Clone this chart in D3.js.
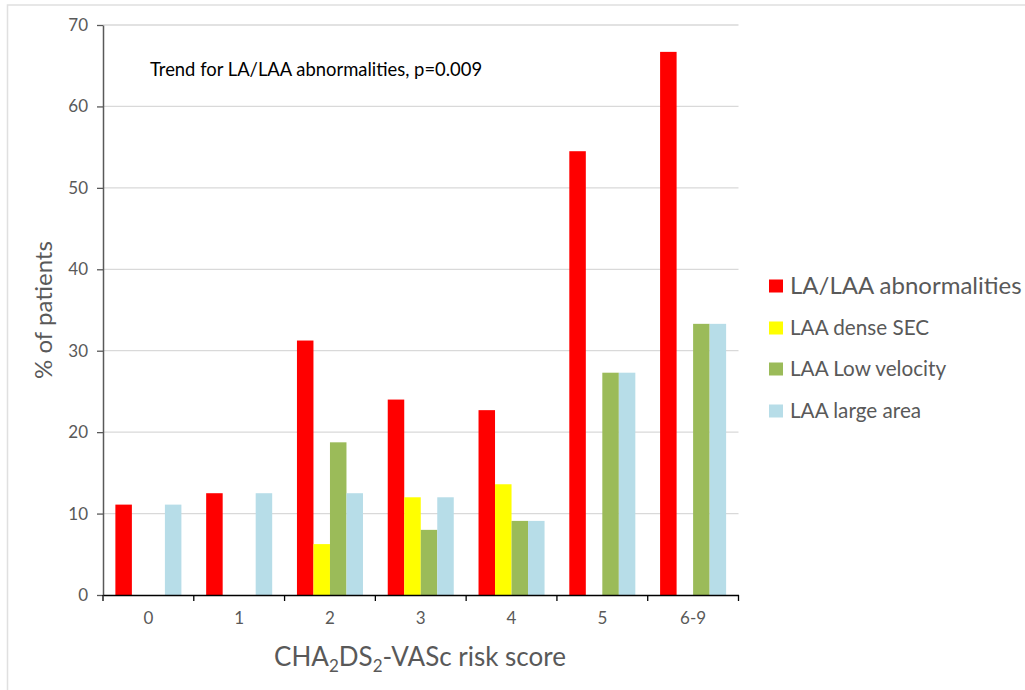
<!DOCTYPE html>
<html>
<head>
<meta charset="utf-8">
<script src="https://cdn.jsdelivr.net/npm/d3@7"></script>
<style>
  html, body { margin: 0; padding: 0; background: #fff; }
  svg { display: block; font-family: Lato, "Open Sans", sans-serif; }
</style>
</head>
<body>
<svg id="chart" width="1025" height="690"></svg>
<script>
const categories = ["0", "1", "2", "3", "4", "5", "6-9"];
const seriesNames = ["LA/LAA abnormalities", "LAA dense SEC", "LAA Low velocity", "LAA large area"];
const seriesColors = ["#ff0000", "#ffff00", "#9bbb59", "#b7dde8"];
const laLaaAbnormalities = [11.1, 12.5, 31.25, 24.0, 22.7, 54.5, 66.7];
const laaDenseSEC        = [0, 0, 6.25, 12.0, 13.6, 0, 0];
const laaLowVelocity     = [0, 0, 18.75, 8.0, 9.1, 27.3, 33.3];
const laaLargeArea       = [11.1, 12.5, 12.5, 12.0, 9.1, 27.3, 33.3];
const yTicks = [0, 10, 20, 30, 40, 50, 60, 70];
const annotation = "Trend for LA/LAA abnormalities, p=0.009";

const seriesValues = [laLaaAbnormalities, laaDenseSEC, laaLowVelocity, laaLargeArea];

const svg = d3.select("#chart");
const plot = { left: 103, right: 738.5, top: 25, bottom: 595 };

// chart border
svg.append("rect").attr("x", 7.5).attr("y", 5).attr("width", 1030).attr("height", 700)
  .attr("fill", "none").attr("stroke", "#e0e0e0").attr("stroke-width", 1.5);

const x = d3.scaleBand().domain(categories).range([plot.left, plot.right]).paddingInner(0).paddingOuter(0);
const gapRatio = 1.5;
const barW = x.bandwidth() / (seriesNames.length + gapRatio);
const x1 = d3.scaleBand().domain(seriesNames)
  .range([barW * gapRatio / 2, barW * gapRatio / 2 + barW * seriesNames.length]).padding(0);
const y = d3.scaleLinear().domain([0, 70]).range([plot.bottom, plot.top]);

// gridlines
svg.append("g").selectAll("line").data(yTicks.filter(d => d > 0)).join("line")
  .attr("x1", plot.left).attr("x2", plot.right)
  .attr("y1", d => y(d)).attr("y2", d => y(d))
  .attr("stroke", "#d9d9d9").attr("stroke-width", 1.3);

// bars
const groups = svg.append("g").selectAll("g").data(categories).join("g")
  .attr("transform", d => `translate(${x(d)},0)`);
groups.selectAll("rect").data((c, i) => seriesNames.map((s, j) => ({ s, j, v: seriesValues[j][i] })))
  .join("rect")
  .filter(d => d.v > 0)
  .attr("x", d => x1(d.s)).attr("width", x1.bandwidth())
  .attr("y", d => y(d.v)).attr("height", d => y(0) - y(d.v))
  .attr("fill", d => seriesColors[d.j]);

const tickFont = "Lato, 'Open Sans', sans-serif";

// y axis
const yAxis = svg.append("g").attr("transform", `translate(${plot.left},0)`)
  .call(d3.axisLeft(y).tickValues(yTicks).tickSize(6).tickPadding(9).tickSizeOuter(0));
yAxis.select(".domain").attr("stroke", "#595959").attr("stroke-width", 1.5);
yAxis.selectAll(".tick line").attr("stroke", "#595959").attr("stroke-width", 1.3);
yAxis.selectAll(".tick text").attr("fill", "#595959").style("font-size", "17px")
  .style("font-family", tickFont);

// x axis
const xAxis = svg.append("g").attr("transform", `translate(0,${plot.bottom})`)
  .call(d3.axisBottom(x).tickSize(0).tickPadding(17).tickSizeOuter(0));
xAxis.select(".domain").attr("stroke", "#000").attr("stroke-width", 1.5);
xAxis.selectAll(".tick text").attr("fill", "#595959").style("font-size", "17px")
  .style("font-family", tickFont);
// boundary ticks
const bounds = categories.map(c => x(c)).concat([x(categories[categories.length - 1]) + x.bandwidth()]);
xAxis.append("g").selectAll("line").data(bounds).join("line")
  .attr("x1", d => d).attr("x2", d => d).attr("y1", 0).attr("y2", 6)
  .attr("stroke", "#000").attr("stroke-width", 1.3);

// axis titles
const xt = svg.append("text").attr("x", 420).attr("y", 666).attr("text-anchor", "middle")
  .attr("fill", "#595959").style("font-size", "26px");
xt.append("tspan").text("CHA");
xt.append("tspan").text("2").attr("dy", 6).style("font-size", "17px");
xt.append("tspan").text("DS").attr("dy", -6);
xt.append("tspan").text("2").attr("dy", 6).style("font-size", "17px");
xt.append("tspan").text("-VASc risk score").attr("dy", -6);

svg.append("text").attr("transform", "translate(52,310) rotate(-90)").attr("text-anchor", "middle")
  .attr("fill", "#595959").style("font-size", "24px").text("% of patients");

// annotation
svg.append("text").attr("x", 150).attr("y", 76).attr("fill", "#000")
  .style("font-size", "18.4px").text(annotation);

// legend
const legendRows = [
  { y: 286, size: 24, sq: 13 },
  { y: 328, size: 20.7, sq: 13 },
  { y: 369, size: 20.7, sq: 13 },
  { y: 411, size: 20.7, sq: 13 }
];
const legend = svg.append("g").selectAll("g").data(seriesNames).join("g")
  .attr("transform", (d, i) => `translate(769,${legendRows[i].y})`);
legend.append("rect").attr("x", 0).attr("y", (d, i) => -legendRows[i].sq / 2)
  .attr("width", 14).attr("height", (d, i) => legendRows[i].sq)
  .attr("fill", (d, i) => seriesColors[i]);
legend.append("text").attr("x", 21).attr("dy", "0.35em").attr("fill", "#595959")
  .style("font-size", (d, i) => legendRows[i].size + "px").text(d => d);
</script>
</body>
</html>
